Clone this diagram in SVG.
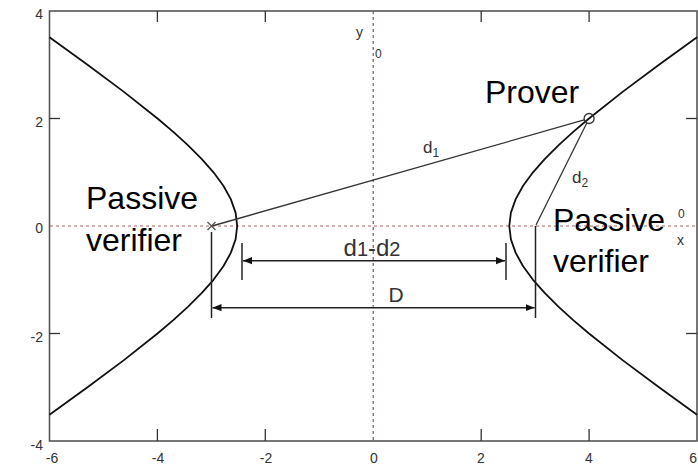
<svg xmlns="http://www.w3.org/2000/svg" width="698" height="468" viewBox="0 0 698 468">
<defs>
<style>
.frame{fill:none;stroke:#555;stroke-width:1.6}
.tick{stroke:#333;stroke-width:1.3}
.tl{font-family:"Liberation Sans",Arial,sans-serif;font-size:14px;fill:#333}
.curve{fill:none;stroke:#111;stroke-width:1.8;stroke-linejoin:round}
.thin{stroke:#333;stroke-width:1.3;fill:none}
.dim{stroke:#222;stroke-width:1.5;fill:none}
.big{font-family:"Liberation Sans",Arial,sans-serif;font-size:32px;fill:#000}
.lab{font-family:"Liberation Sans",Arial,sans-serif;fill:#333}
</style>
<marker id="ah" viewBox="0 0 10 10" refX="10" refY="5" markerWidth="9" markerHeight="9" markerUnits="userSpaceOnUse" orient="auto-start-reverse">
<path d="M0,1 L10,5 L0,9 Z" fill="#111"/>
</marker>
</defs>
<rect width="698" height="468" fill="#fff"/>
<g id="axes">
<line x1="373.25" y1="11" x2="373.25" y2="441" stroke="#8a6666" stroke-width="1.3" stroke-dasharray="3,3"/>
<line x1="50" y1="226" x2="697" y2="226" stroke="#c49898" stroke-width="1.3" stroke-dasharray="3,3"/>
<rect class="frame" x="49.5" y="11" width="647.5" height="430"/>
<g class="tick">
<line x1="157.4" y1="11" x2="157.4" y2="22"/><line x1="265.3" y1="11" x2="265.3" y2="22"/>
<line x1="481.2" y1="11" x2="481.2" y2="22"/><line x1="589.1" y1="11" x2="589.1" y2="22"/>
<line x1="157.4" y1="441" x2="157.4" y2="429"/><line x1="265.3" y1="441" x2="265.3" y2="429"/>
<line x1="481.2" y1="441" x2="481.2" y2="429"/><line x1="589.1" y1="441" x2="589.1" y2="429"/>
<line x1="49.5" y1="118.5" x2="60" y2="118.5"/><line x1="49.5" y1="333.5" x2="60" y2="333.5"/>
<line x1="697" y1="118.5" x2="686" y2="118.5"/><line x1="697" y1="333.5" x2="686" y2="333.5"/>
</g>
<g class="tl" text-anchor="end">
<text x="43" y="19">4</text><text x="43" y="127">2</text><text x="43" y="233">0</text>
<text x="43" y="342">-2</text><text x="43" y="450">-4</text>
</g>
<g class="tl" text-anchor="middle">
<text x="52" y="463">-6</text><text x="158" y="463">-4</text><text x="266" y="463">-2</text>
<text x="374" y="463">0</text><text x="481" y="463">2</text><text x="589" y="463">4</text>
</g>
<text class="tl" x="697" y="463" text-anchor="end">6</text>
<text class="tl" x="356" y="37">y</text>
<text class="tl" x="375" y="58" style="font-size:12px">0</text>
<text class="tl" x="678" y="218" style="font-size:12px">0</text>
<text class="tl" x="677" y="245">x</text>
</g>
<g id="hyperbola">
<polyline class="curve" points="697,37.3 659,64.8 622.9,91.6 589,118.5 573.2,131.9 558.4,145.4 544.9,158.8 533,172.3 523.1,185.7 515.7,199.1 510.9,212.6 509.3,226 510.9,239.4 515.7,252.9 523.1,266.3 533,279.8 544.9,293.2 558.4,306.6 573.2,320.1 589,333.5 622.9,360.4 659,387.3 697,414.7"/>
<polyline class="curve" points="49.5,37.3 87.5,64.8 123.6,91.6 157.5,118.5 173.3,131.9 188.1,145.4 201.6,158.8 213.5,172.3 223.4,185.7 230.8,199.1 235.6,212.6 237.2,226 235.6,239.4 230.8,252.9 223.4,266.3 213.5,279.8 201.6,293.2 188.1,306.6 173.3,320.1 157.5,333.5 123.6,360.4 87.5,387.3 49.5,414.7"/>
</g>
<g id="connectors">
<line class="thin" x1="585" y1="119.7" x2="212" y2="226" stroke="#444"/>
<line class="thin" x1="586.8" y1="123" x2="536" y2="225"/>
<line class="dim" x1="242" y1="243" x2="242" y2="280"/>
<line class="dim" x1="506" y1="243" x2="506" y2="280"/>
<line class="dim" x1="243" y1="260.7" x2="505" y2="260.7" marker-start="url(#ah)" marker-end="url(#ah)"/>
<line class="dim" x1="211.5" y1="232" x2="211.5" y2="318"/>
<line class="dim" x1="535.5" y1="226" x2="535.5" y2="318"/>
<line class="dim" x1="212.5" y1="307.7" x2="534.5" y2="307.7" marker-start="url(#ah)" marker-end="url(#ah)"/>
</g>
<g id="prover">
<circle cx="589.1" cy="118.5" r="5" fill="none" stroke="#333" stroke-width="1.3"/>
<text class="big" x="485" y="103">Prover</text>
</g>
<g id="verifier-left">
<path d="M207.5,222 L215.5,230 M215.5,222 L207.5,230" stroke="#555" stroke-width="1.3"/>
<text class="big" x="86" y="209">Passive</text>
<text class="big" x="86" y="251">verifier</text>
</g>
<g id="verifier-right">
<text class="big" x="553" y="231">Passive</text>
<text class="big" x="553" y="272">verifier</text>
</g>
<g id="labels">
<text class="lab" x="423" y="153" font-size="17">d<tspan font-size="12" dy="4">1</tspan></text>
<text class="lab" x="572" y="183" font-size="17">d<tspan font-size="12" dy="4">2</tspan></text>
<text class="lab" x="372" y="256" font-size="24" text-anchor="middle" fill="#111">d<tspan font-size="20">1</tspan>-d<tspan font-size="20">2</tspan></text>
<text class="lab" x="396" y="302" font-size="21" text-anchor="middle">D</text>
</g>
</svg>
